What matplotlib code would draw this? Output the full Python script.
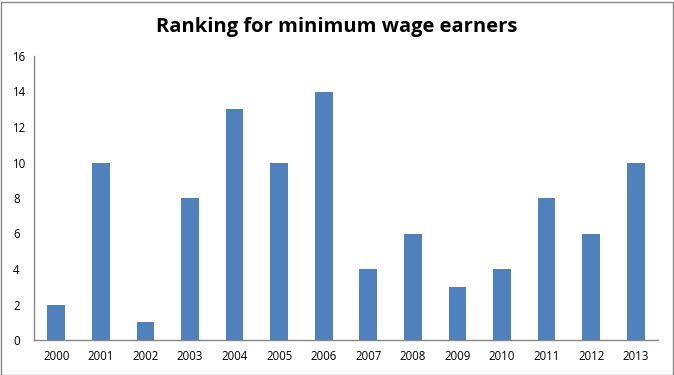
import matplotlib.pyplot as plt
from matplotlib.patches import Rectangle

years = ['2000', '2001', '2002', '2003', '2004', '2005', '2006',
         '2007', '2008', '2009', '2010', '2011', '2012', '2013']
ranking = [2, 10, 1, 8, 13, 10, 14, 4, 6, 3, 4, 8, 6, 10]
yticks = [0, 2, 4, 6, 8, 10, 12, 14, 16]

plt.rcParams['font.family'] = ['Open Sans', 'DejaVu Sans']

fig = plt.figure(figsize=(6.74, 3.75), dpi=100)
ax = fig.add_axes([34 / 674, 35 / 375, 624 / 674, 284 / 375])

ax.bar(range(len(years)), ranking, width=0.4, color='#4F81BD')
ax.set_xlim(-0.5, len(years) - 0.5)
ax.set_ylim(0, 16)
ax.set_xticks(range(len(years)))
ax.set_xticklabels(years)
ax.set_yticks(yticks)
ax.tick_params(axis='both', length=0, labelsize=8.3, colors='#000000')
ax.tick_params(axis='y', pad=15)
for lbl in ax.get_yticklabels():
    lbl.set_horizontalalignment('left')
ax.tick_params(axis='x', pad=7)

for side in ['top', 'right']:
    ax.spines[side].set_visible(False)
for side in ['left', 'bottom']:
    ax.spines[side].set_color('#868686')
    ax.spines[side].set_linewidth(1)

# Title
fig.text(0.5, 0.928, 'Ranking for minimum wage earners', ha='center', va='center',
         fontsize=14.5, fontweight='bold')

# chart border
fig.patches.append(Rectangle((0.5 / 674, 0.5 / 375), 672.5 / 674, 373 / 375,
                             transform=fig.transFigure, fill=False,
                             edgecolor='#868686', linewidth=1))

fig.savefig('out.png', dpi=100)
